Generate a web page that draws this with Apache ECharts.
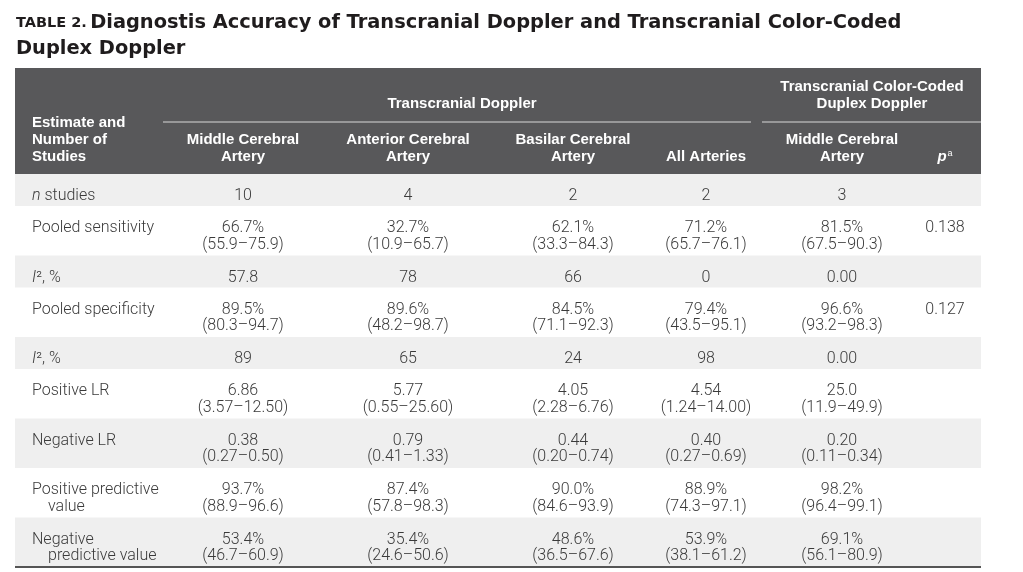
<!DOCTYPE html>
<html><head><meta charset="utf-8">
<script src="https://cdn.jsdelivr.net/npm/echarts@6/dist/echarts.min.js"></script>
<style>html,body{margin:0;padding:0;background:#fff}#main{width:1023px;height:572px}</style>
</head><body><div id="main"></div>
<script>
// ---------------- DATA ----------------
const titlePrefix = 'TABLE 2.';
const titleLines = ['Diagnostis Accuracy of Transcranial Doppler and Transcranial Color-Coded', 'Duplex Doppler'];
const stubHeader = ['Estimate and', 'Number of', 'Studies'];
const groupHeaders = [['Transcranial Doppler'], ['Transcranial Color-Coded', 'Duplex Doppler']];
const columnHeaders = [['Middle Cerebral', 'Artery'], ['Anterior Cerebral', 'Artery'], ['Basilar Cerebral', 'Artery'], ['All Arteries'], ['Middle Cerebral', 'Artery'], ['{pit|p}{sup|a}']];
const rowLabels = [['{it|n} studies'], ['Pooled sensitivity'], ['{it|I}², %'], ['Pooled specificity'], ['{it|I}², %'], ['Positive LR'], ['Negative LR'], ['Positive predictive', 'value'], ['Negative', 'predictive value']];
const tcdMiddleCerebral = [['10'], ['66.7%', '(55.9–75.9)'], ['57.8'], ['89.5%', '(80.3–94.7)'], ['89'], ['6.86', '(3.57–12.50)'], ['0.38', '(0.27–0.50)'], ['93.7%', '(88.9–96.6)'], ['53.4%', '(46.7–60.9)']];
const tcdAnteriorCerebral = [['4'], ['32.7%', '(10.9–65.7)'], ['78'], ['89.6%', '(48.2–98.7)'], ['65'], ['5.77', '(0.55–25.60)'], ['0.79', '(0.41–1.33)'], ['87.4%', '(57.8–98.3)'], ['35.4%', '(24.6–50.6)']];
const tcdBasilarCerebral = [['2'], ['62.1%', '(33.3–84.3)'], ['66'], ['84.5%', '(71.1–92.3)'], ['24'], ['4.05', '(2.28–6.76)'], ['0.44', '(0.20–0.74)'], ['90.0%', '(84.6–93.9)'], ['48.6%', '(36.5–67.6)']];
const tcdAllArteries = [['2'], ['71.2%', '(65.7–76.1)'], ['0'], ['79.4%', '(43.5–95.1)'], ['98'], ['4.54', '(1.24–14.00)'], ['0.40', '(0.27–0.69)'], ['88.9%', '(74.3–97.1)'], ['53.9%', '(38.1–61.2)']];
const tccdMiddleCerebral = [['3'], ['81.5%', '(67.5–90.3)'], ['0.00'], ['96.6%', '(93.2–98.3)'], ['0.00'], ['25.0', '(11.9–49.9)'], ['0.20', '(0.11–0.34)'], ['98.2%', '(96.4–99.1)'], ['69.1%', '(56.1–80.9)']];
const pValues = [[''], ['0.138'], [''], ['0.127'], [''], [''], [''], [''], ['']];
const bodyColumns = [tcdMiddleCerebral, tcdAnteriorCerebral, tcdBasilarCerebral, tcdAllArteries, tccdMiddleCerebral, pValues];

// ---------------- LAYOUT / STYLE ----------------
const L = {
  left: 15, right: 981,
  headerTop: 68, headerBottom: 174,
  stubX: 32, indentX: 48,
  colX: [243, 408, 573, 706, 842, 945],
  groupSpans: [[163, 751], [762, 981]],
  groupLabelX: [462, 872],
  groupLabelY: [[104], [87, 104]],
  groupRuleY: 122,
  subLineY: [140, 157],
  stubY: [123, 140, 157],
  rowH1: 32, rowH2: 49.5, lineH: 16.5, firstLine: 22,
  titleX: 16, titleY: [23, 49]
};
const C = { header: '#58585a', stripe: '#efefef', body: '#3a3a3a', title: '#1f1c1d', rule: '#555' };
const bodyFont = { fontFamily: 'Roboto, "Liberation Sans", sans-serif', fontWeight: 300, fontSize: 16 };
const headFont = { fontFamily: '"Liberation Sans", Arial, sans-serif', fontWeight: 'bold', fontSize: 15 };
const titleFont = '"DejaVu Sans", "Liberation Sans", sans-serif';

const els = [];
function txt(x, y, text, font, fill, align, rich) {
  els.push({ type: 'text', silent: true, style: Object.assign({ text, x, y, fill, align: align || 'center', verticalAlign: 'middle', rich: rich || {} }, font) });
}
// title
els.push({ type: 'text', silent: true, style: {
  text: '{a|' + titlePrefix + '} {b|' + titleLines[0] + '}', x: L.titleX, y: L.titleY[0], verticalAlign: 'middle', fill: C.title,
  rich: { a: { fontFamily: titleFont, fontWeight: 'bold', fontSize: 14.5, fill: C.title },
          b: { fontFamily: titleFont, fontWeight: 'bold', fontSize: 19.4, fill: C.title } } } });
els.push({ type: 'text', silent: true, style: { text: titleLines[1], x: L.titleX, y: L.titleY[1], verticalAlign: 'middle', fill: C.title,
  fontFamily: titleFont, fontWeight: 'bold', fontSize: 19.4 } });

// header background
els.push({ type: 'rect', silent: true, shape: { x: L.left, y: L.headerTop, width: L.right - L.left, height: L.headerBottom - L.headerTop }, style: { fill: C.header } });
// group headers + rules
groupHeaders.forEach((g, gi) => {
  g.forEach((line, li) => txt(L.groupLabelX[gi], L.groupLabelY[gi][li], line, headFont, '#fff'));
  els.push({ type: 'line', silent: true, shape: { x1: L.groupSpans[gi][0], y1: L.groupRuleY, x2: L.groupSpans[gi][1], y2: L.groupRuleY }, style: { stroke: '#d8d8d8', lineWidth: 1 } });
});
stubHeader.forEach((line, i) => txt(L.stubX, L.stubY[i], line, headFont, '#fff', 'left'));
columnHeaders.forEach((lines, ci) => {
  const off = L.subLineY.length - lines.length;
  lines.forEach((line, li) => txt(L.colX[ci], L.subLineY[off + li], line, headFont, '#fff', 'center', {
    pit: { fontStyle: 'italic', fontWeight: 'bold', fontSize: 15, fill: '#fff', fontFamily: '"Liberation Sans", Arial' },
    sup: { fontSize: 9, fill: '#fff', fontFamily: '"Liberation Sans", Arial', padding: [0, 0, 7, 1] } }));
});

// body rows
let y = L.headerBottom;
const italicRich = { it: Object.assign({}, bodyFont, { fontStyle: 'italic', fill: C.body }) };
rowLabels.forEach((label, ri) => {
  const nLines = Math.max(label.length, ...bodyColumns.map(c => c[ri].length));
  const h = nLines > 1 ? L.rowH2 : L.rowH1;
  if (ri % 2 === 0) els.push({ type: 'rect', silent: true, shape: { x: L.left, y: y, width: L.right - L.left, height: h }, style: { fill: C.stripe } });
  label.forEach((line, li) => txt(li === 0 ? L.stubX : L.indentX, y + L.firstLine + li * L.lineH, line, bodyFont, C.body, 'left', italicRich));
  bodyColumns.forEach((col, ci) => col[ri].forEach((line, li) => { if (line) txt(L.colX[ci], y + L.firstLine + li * L.lineH, line, bodyFont, C.body); }));
  y += h;
});
els.push({ type: 'line', silent: true, shape: { x1: L.left, y1: y, x2: L.right, y2: y }, style: { stroke: C.rule, lineWidth: 2 } });

const chart = echarts.init(document.getElementById('main'));
chart.setOption({ animation: false, backgroundColor: '#fff', graphic: { elements: els } });
</script></body></html>
